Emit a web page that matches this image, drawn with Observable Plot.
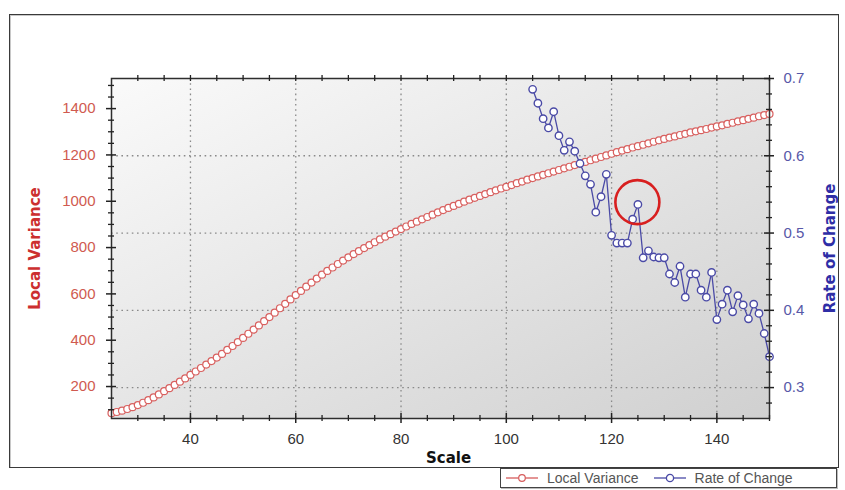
<!DOCTYPE html>
<html><head><meta charset="utf-8">
<script src="https://cdn.jsdelivr.net/npm/d3@7"></script>
<script src="https://cdn.jsdelivr.net/npm/@observablehq/plot@0.6"></script>
<style>
body{margin:0;background:#fff;}
#wrap{position:relative;width:845px;height:490px;overflow:hidden;font-family:"Liberation Sans",Arial,sans-serif;}
#border{position:absolute;left:9px;top:14px;width:828px;height:452px;border:1px solid #3a3a3a;box-shadow:inset 1px 1px 0 #c8c8c8;}
#chart{position:absolute;left:0;top:0;}
#legend{position:absolute;left:500px;top:468px;width:335px;height:18px;border:1px solid #444;background:#fff;display:flex;align-items:center;font-size:14px;color:#555;box-shadow:1px 1px 0 #bbb;}
#legend .item{display:flex;align-items:center;margin-left:4px;}
#legend svg{margin-right:8px;}
</style></head><body>
<div id="wrap">
<div id="border"></div>
<div id="chart"></div>
<div id="legend">
  <div class="item"><svg width="34" height="12"><line x1="1" y1="6" x2="33" y2="6" stroke="#d65c5c" stroke-width="1.3"/><circle cx="17" cy="6" r="3.3" fill="#fff" stroke="#d65c5c" stroke-width="1.2"/></svg>Local Variance</div>
  <div class="item" style="margin-left:14px"><svg width="34" height="12"><line x1="1" y1="6" x2="33" y2="6" stroke="#4a4aa6" stroke-width="1.3"/><circle cx="17" cy="6" r="3.6" fill="#fff" stroke="#4a4aa6" stroke-width="1.3"/></svg>Rate of Change</div>
</div>
</div>
<script>
// ---- axis domains / ticks ----
const xDomain = [25, 150];
const leftDomain = [62, 1530];
const rightDomain = [0.26, 0.7];
const xMajorTicks = [40, 60, 80, 100, 120, 140];
const xMinorTicks = [30, 35, 45, 50, 55, 65, 70, 75, 85, 90, 95, 105, 110, 115, 125, 130, 135, 145, 150];
const leftMajorTicks = [200, 400, 600, 800, 1000, 1200, 1400];
const leftMinorTicks = [100, 150, 250, 300, 350, 450, 500, 550, 650, 700, 750, 850, 900, 950, 1050, 1100, 1150, 1250, 1300, 1350, 1450, 1500];
const rightMajorTicks = [0.3, 0.4, 0.5, 0.6, 0.7];
const rightMinorTicks = [0.28, 0.32, 0.34, 0.36, 0.38, 0.42, 0.44, 0.46, 0.48, 0.52, 0.54, 0.56, 0.58, 0.62, 0.64, 0.66, 0.68];

// ---- Local Variance series ----
const lvScale = [25,26,27,28,29,30,31,32,33,34,35,36,37,38,39,40,41,42,43,44,45,46,47,48,49,50,
  51,52,53,54,55,56,57,58,59,60,61,62,63,64,65,66,67,68,69,70,71,72,73,74,75,76,77,78,79,80,
  81,82,83,84,85,86,87,88,89,90,91,92,93,94,95,96,97,98,99,100,101,102,103,104,105,106,107,108,109,110,
  111,112,113,114,115,116,117,118,119,120,121,122,123,124,125,126,127,128,129,130,131,132,133,134,135,136,137,138,139,140,
  141,142,143,144,145,146,147,148,149,150];
const lvValue = [85,90,96,103,111,120,130,141,153,166,180,193,207,221,235,250,265,280,295,310,325,341,358,375,392,410,
  428,446,464,482,500,519,538,557,576,595,613,631,649,666,683,699,714,729,744,758,772,785,798,811,823,835,847,858,869,880,
  891,902,912,922,932,942,952,962,971,980,989,998,1007,1015,1023,1031,1039,1047,1055,1062,1070,1078,1085,1093,1100,1107,1114,1121,1128,1135,
  1142,1149,1156,1163,1170,1177,1184,1191,1198,1205,1212,1219,1225,1232,1238,1244,1250,1257,1263,1269,1275,1280,1286,1291,1297,1302,1307,1312,1318,1323,
  1328,1334,1339,1345,1350,1356,1361,1367,1372,1377];

// ---- Rate of Change series ----
const rcScale = [105,106,107,108,109,110,111,112,113,114,115,116,117,118,119,120,121,122,123,124,125,126,127,128,129,130,
  131,132,133,134,135,136,137,138,139,140,141,142,143,144,145,146,147,148,149,150];
const rcValue = [0.686,0.668,0.648,0.636,0.657,0.626,0.607,0.618,0.606,0.590,0.574,0.563,0.527,0.547,0.576,0.497,0.487,0.487,0.487,0.518,0.537,0.468,0.477,0.469,0.468,0.468,
  0.447,0.436,0.457,0.417,0.447,0.447,0.426,0.417,0.449,0.388,0.408,0.426,0.398,0.419,0.407,0.389,0.408,0.396,0.370,0.340];

// ---- highlighted point annotation ----
const highlightScale = [124.9];
const highlightValue = [0.540];

const lvData = lvScale.map((s, i) => ({s, v: lvValue[i]}));
const rcData = rcScale.map((s, i) => ({s, v: rcValue[i]}));
const hlData = highlightScale.map((s, i) => ({s, v: highlightValue[i]}));

// right axis values mapped into the left (primary) y scale
const yRight = d3.scaleLinear().domain(rightDomain).range(leftDomain);

const RED = "#d8605f", BLUE = "#4a4aa6";
const W = 845, H = 490, ML = 111, MR = 76, MT = 78, MB = 72;
const PW = W - ML - MR, PH = H - MT - MB;

const chart = Plot.plot({
  width: W, height: H,
  marginLeft: ML, marginRight: MR, marginTop: MT, marginBottom: MB,
  x: {domain: xDomain},
  y: {domain: leftDomain},
  style: {background: "transparent", overflow: "visible"},
  marks: [
    Plot.frame({fill: "url(#plotBg)"}),
    Plot.ruleX(xMajorTicks, {x: d => d, stroke: "#8a8a8a", strokeWidth: 1.3, strokeDasharray: "1.6,3.6"}),
    Plot.ruleY(rightMajorTicks.slice(0, 4), {y: d => yRight(d), stroke: "#8a8a8a", strokeWidth: 1.3, strokeDasharray: "1.6,3.6"}),
    Plot.line(lvData, {x: "s", y: "v", stroke: RED, strokeWidth: 1.2}),
    Plot.dot(lvData, {x: "s", y: "v", r: 3.5, fill: "#fff", stroke: RED, strokeWidth: 1.2}),
    Plot.line(rcData, {x: "s", y: d => yRight(d.v), stroke: BLUE, strokeWidth: 1.3}),
    Plot.dot(rcData, {x: "s", y: d => yRight(d.v), r: 3.7, fill: "#fff", stroke: BLUE, strokeWidth: 1.4}),
    Plot.dot(hlData, {x: "s", y: d => yRight(d.v), r: 22, fill: "none", stroke: "#d81f1f", strokeWidth: 2.6}),
    Plot.frame({stroke: "#2e2e2e", strokeWidth: 1.5}),
    // crossing tick marks
    Plot.tickX(xMajorTicks, {x: d => d, insetTop: PH - 5, insetBottom: -5, stroke: "#222", strokeWidth: 1.5}),
    Plot.tickX(xMinorTicks, {x: d => d, insetTop: PH - 3, insetBottom: -3, stroke: "#222", strokeWidth: 1.3}),
    Plot.tickX(xMajorTicks.concat(xMinorTicks), {x: d => d, insetTop: -3, insetBottom: PH - 3, stroke: "#222", strokeWidth: 1.3}),
    Plot.tickY(leftMajorTicks, {y: d => d, insetLeft: -5, insetRight: PW - 5, stroke: "#222", strokeWidth: 1.5}),
    Plot.tickY(leftMinorTicks, {y: d => d, insetLeft: -3, insetRight: PW - 3, stroke: "#222", strokeWidth: 1.3}),
    Plot.tickY(rightMajorTicks, {y: d => yRight(d), insetLeft: PW - 5, insetRight: -5, stroke: "#222", strokeWidth: 1.5}),
    Plot.tickY(rightMinorTicks, {y: d => yRight(d), insetLeft: PW - 3, insetRight: -3, stroke: "#222", strokeWidth: 1.3}),
    // tick labels
    Plot.axisX(xMajorTicks, {tickSize: 0, tickPadding: 15, fontSize: 15, color: "#333", label: null, fontFamily: "Liberation Sans"}),
    Plot.axisY(leftMajorTicks, {tickSize: 0, tickPadding: 16, fontSize: 15, color: "#d05a50", label: null, tickFormat: d3.format("d"), fontFamily: "Liberation Sans"}),
    Plot.axisY(rightMajorTicks, {y: yRight, anchor: "right", tickFormat: d3.format(".1f"), tickSize: 0, tickPadding: 14, fontSize: 15, color: "#5858a8", label: null, fontFamily: "Liberation Sans"}),
    // axis titles
    Plot.text(["Local Variance"], {frameAnchor: "left", dx: -76, rotate: -90, textAnchor: "middle", fontSize: 15, fontWeight: "bold", fill: "#cc2f2f", fontFamily: "DejaVu Sans"}),
    Plot.text(["Rate of Change"], {frameAnchor: "right", dx: 61, rotate: -90, textAnchor: "middle", fontSize: 15, fontWeight: "bold", fill: "#2e2ea6", fontFamily: "DejaVu Sans"}),
    Plot.text(["Scale"], {frameAnchor: "bottom", dx: 8, dy: 44, fontSize: 15, fontWeight: "bold", fill: "#111", fontFamily: "DejaVu Sans"})
  ]
});

const defs = d3.create("svg:defs");
const grad = defs.append("linearGradient").attr("id", "plotBg")
  .attr("x1", "0").attr("y1", "0").attr("x2", "1").attr("y2", "1");
grad.append("stop").attr("offset", "0%").attr("stop-color", "#fafafa");
grad.append("stop").attr("offset", "100%").attr("stop-color", "#d0d0d0");
chart.insertBefore(defs.node(), chart.firstChild);

document.getElementById("chart").appendChild(chart);
</script>
</body></html>
